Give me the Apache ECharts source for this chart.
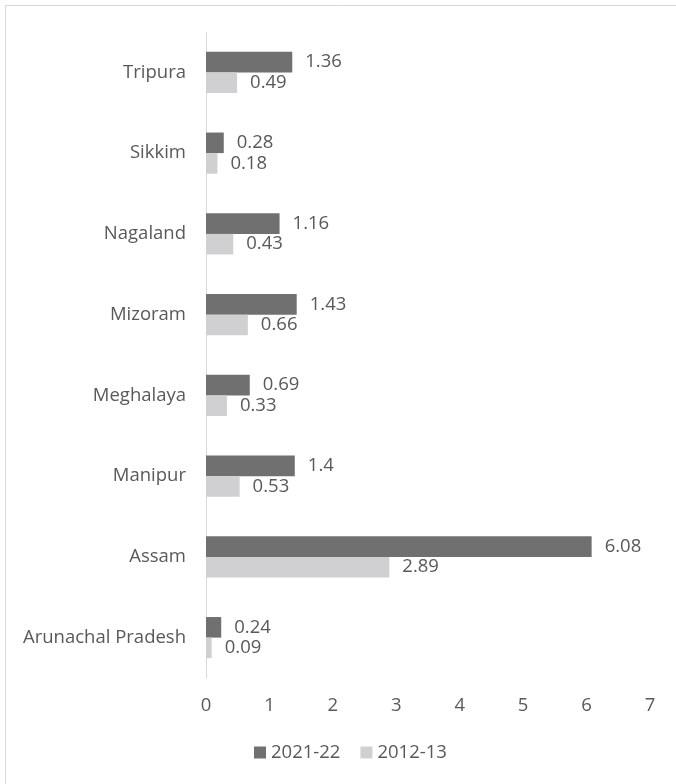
<!DOCTYPE html>
<html>
<head>
<meta charset="utf-8">
<script src="https://cdn.jsdelivr.net/npm/echarts@6/dist/echarts.min.js"></script>
<style>html,body{margin:0;padding:0;background:#fff}#c{width:676px;height:784px}</style>
</head>
<body>
<div id="c"></div>
<script>
const categories = ['Arunachal Pradesh','Assam','Manipur','Meghalaya','Mizoram','Nagaland','Sikkim','Tripura'];
const seriesNames = ['2021-22','2012-13'];
const values2021 = [0.24, 6.08, 1.4, 0.69, 1.43, 1.16, 0.28, 1.36];
const values2012 = [0.09, 2.89, 0.53, 0.33, 0.66, 0.43, 0.18, 0.49];
const xTicks = [0,1,2,3,4,5,6,7];

const FONT = '"Open Sans", "Liberation Sans", sans-serif';
const TXT = '#595959';
const FS = 18.5;
const chart = echarts.init(document.getElementById('c'), null, {renderer:'canvas'});
const labelCfg = {show:true, position:'right', distance:13, color:TXT, fontSize:FS, fontFamily:FONT};
chart.setOption({
  animation:false,
  backgroundColor:'#fff',
  graphic:[{type:'rect', shape:{x:5.5,y:5.5,width:700,height:800}, style:{fill:'none', stroke:'#d9d9d9', lineWidth:1}, silent:true}],
  legend:{
    data:seriesNames, bottom:17, left:249, itemWidth:12, itemHeight:12, itemGap:20,
    icon:'rect', textStyle:{color:TXT, fontSize:FS, fontFamily:FONT}
  },
  grid:{left:206, right:26, top:32, bottom:106, containLabel:false},
  xAxis:{
    type:'value', min:xTicks[0], max:xTicks[xTicks.length-1], interval:1,
    axisLine:{show:false}, axisTick:{show:false}, splitLine:{show:false},
    axisLabel:{color:TXT, fontSize:FS, fontFamily:FONT, margin:18}
  },
  yAxis:{
    type:'category', data:categories,
    axisLine:{show:true, lineStyle:{color:'#d9d9d9', width:1}}, axisTick:{show:false},
    axisLabel:{color:TXT, fontSize:FS, fontFamily:FONT, margin:20}
  },
  series:[
    {name:seriesNames[0], type:'bar', data:values2021, barGap:'0%', barCategoryGap:'49%',
     itemStyle:{color:'#707070'}, label:labelCfg},
    {name:seriesNames[1], type:'bar', data:values2012, barGap:'0%', barCategoryGap:'49%',
     itemStyle:{color:'#d0d0d2'}, label:labelCfg}
  ]
});
</script>
</body>
</html>
